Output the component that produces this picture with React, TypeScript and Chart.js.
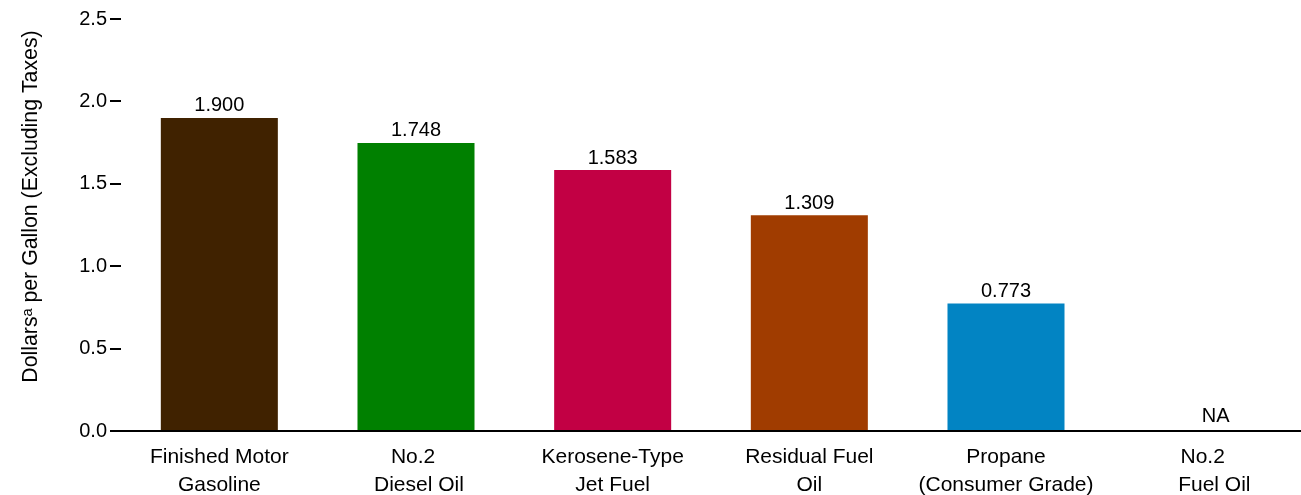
import React, { useEffect, useRef } from "react";
import { Chart, registerables } from "chart.js";

Chart.register(...registerables);

const categories: string[][] = [
  ["Finished Motor", "Gasoline"],
  ["No.2 ", " Diesel Oil"],
  ["Kerosene-Type", "Jet Fuel"],
  ["Residual Fuel", "Oil"],
  ["Propane", "(Consumer Grade)"],
  ["No.2", "    Fuel Oil"],
];
const prices: (number | null)[] = [1.9, 1.748, 1.583, 1.309, 0.773, null];
const barColors: string[] = ["#402200", "#008000", "#C20044", "#A03C00", "#0284C3", "#888888"];
const yTicks: number[] = [0, 0.5, 1.0, 1.5, 2.0, 2.5];
const yTitle = "Dollars\u1D43 per Gallon (Excluding Taxes)";

const FONT = "'Liberation Sans', Arial, Helvetica, sans-serif";

const valueLabels = {
  id: "valueLabels",
  afterDatasetsDraw(chart: any) {
    const ctx = chart.ctx;
    const meta = chart.getDatasetMeta(0);
    const xScale = chart.scales.x;
    const yScale = chart.scales.y;
    ctx.save();
    ctx.font = `20px ${FONT}`;
    ctx.fillStyle = "#000";
    ctx.textAlign = "center";
    ctx.textBaseline = "bottom";
    prices.forEach((v, i) => {
      if (v === null) {
        const x = xScale.getPixelForValue(i);
        ctx.fillText("NA", x + 13, yScale.getPixelForValue(0) - 5);
      } else {
        const el = meta.data[i];
        ctx.fillText(v.toFixed(3), el.x, el.y - 2);
      }
    });
    ctx.restore();
  },
};

const yAxisTitle = {
  id: "yAxisTitle",
  afterDraw(chart: any) {
    const ctx = chart.ctx;
    ctx.save();
    ctx.translate(37, 206.5);
    ctx.rotate(-Math.PI / 2);
    ctx.font = `21.3px ${FONT}`;
    ctx.fillStyle = "#000";
    ctx.textAlign = "center";
    ctx.textBaseline = "alphabetic";
    ctx.fillText(yTitle, 0, 0);
    ctx.restore();
  },
};

export default function App() {
  const ref = useRef<HTMLCanvasElement | null>(null);
  useEffect(() => {
    if (!ref.current) return;
    const chart = new Chart(ref.current, {
      type: "bar",
      data: {
        labels: categories,
        datasets: [
          {
            data: prices as any,
            backgroundColor: barColors,
            barPercentage: 0.595,
            categoryPercentage: 1,
          },
        ],
      },
      options: {
        animation: false,
        responsive: false,
        maintainAspectRatio: false,
        layout: { padding: { top: 19, right: 0, left: 0, bottom: 0 } },
        plugins: {
          legend: { display: false },
          tooltip: { enabled: false },
        },
        scales: {
          x: {
            grid: { display: false, drawTicks: false },
            border: { display: true, color: "#000", width: 2 },
            afterFit: (scale: any) => {
              scale.height = 64;
            },
            ticks: {
              color: "#000",
              padding: 13,
              font: { family: FONT, size: 21, lineHeight: 1.3 },
              maxRotation: 0,
              autoSkip: false,
            },
          },
          y: {
            min: 0,
            max: 2.5,
            afterBuildTicks: (scale: any) => {
              scale.ticks = yTicks.map((v) => ({ value: v }));
            },
            afterFit: (scale: any) => {
              scale.width = 121;
            },
            grid: {
              display: true,
              drawOnChartArea: false,
              drawTicks: true,
              tickLength: 11,
              lineWidth: 2,
              color: "#000",
            },
            border: { display: false },
            ticks: {
              color: "#000",
              padding: 3,
              font: { family: FONT, size: 20 },
              callback: (v: any) => Number(v).toFixed(1),
            },
            title: { display: false },
          },
        },
      },
      plugins: [valueLabels, yAxisTitle],
    });
    return () => chart.destroy();
  }, []);
  return (
    <div style={{ position: "fixed", left: 0, top: 0, width: 1301, height: 495, background: "#fff" }}>
      <canvas ref={ref} width={1301} height={495} style={{ display: "block" }} />
    </div>
  );
}
